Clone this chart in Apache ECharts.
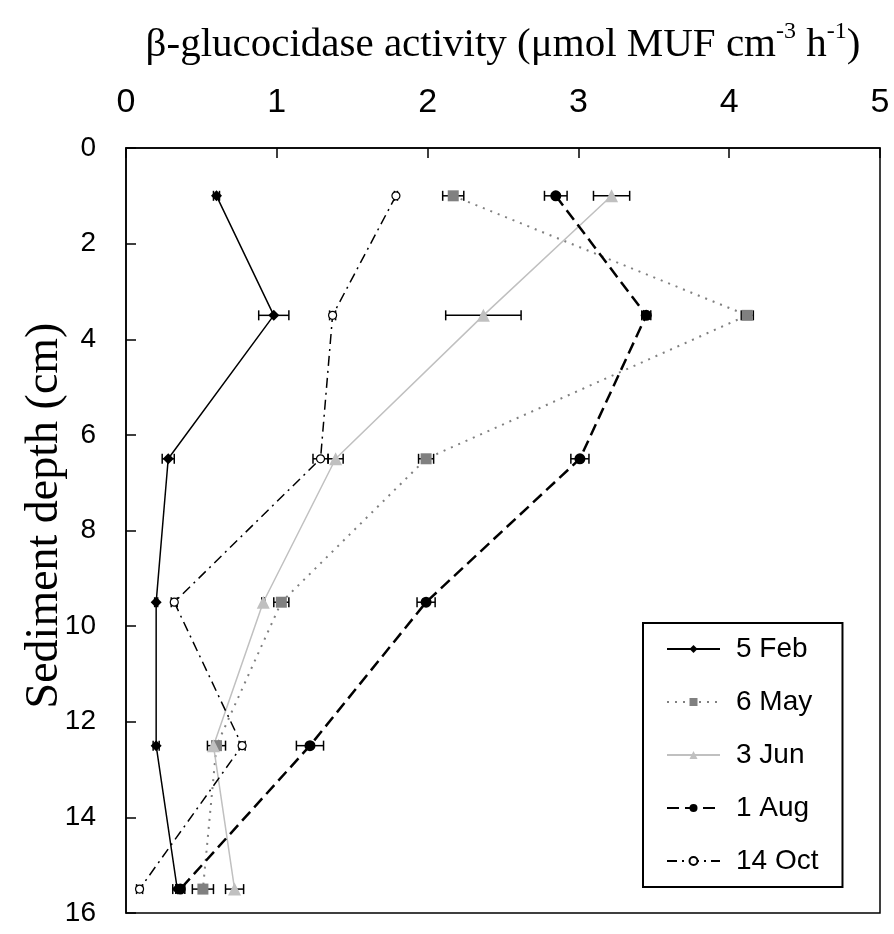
<!DOCTYPE html>
<html>
<head>
<meta charset="utf-8">
<script src="https://cdn.jsdelivr.net/npm/echarts@6.0.0/dist/echarts.min.js"></script>
<style>
  html, body { margin: 0; padding: 0; background: #fff; }
  #main { width: 894px; height: 934px; }
</style>
</head>
<body>
<div id="main"></div>
<script>
// depth of each sample layer (cm)
var depths = [1, 3.5, 6.5, 9.5, 12.5, 15.5];
var xTicks = [0, 1, 2, 3, 4, 5];
var yTicks = [0, 2, 4, 6, 8, 10, 12, 14, 16];

// activity values and half error bars
var feb5 = [0.60, 0.98, 0.28, 0.20, 0.20, 0.34];
var feb5Err = [0.02, 0.10, 0.04, 0.01, 0.02, 0.03];
var may6 = [2.17, 4.12, 1.99, 1.03, 0.60, 0.51];
var may6Err = [0.07, 0.04, 0.05, 0.05, 0.06, 0.07];
var jun3 = [3.22, 2.37, 1.39, 0.91, 0.58, 0.72];
var jun3Err = [0.12, 0.25, 0.05, 0.01, 0.01, 0.06];
var aug1 = [2.85, 3.45, 3.01, 1.99, 1.22, 0.36];
var aug1Err = [0.075, 0.03, 0.06, 0.06, 0.09, 0.03];
var oct14 = [1.79, 1.37, 1.29, 0.32, 0.77, 0.09];
var oct14Err = [0.01, 0.02, 0.05, 0.02, 0.02, 0.02];

var names = ['5 Feb', '6 May', '3 Jun', '1 Aug', '14 Oct'];

const pairs = (vals) => vals.map((v, i) => [v, depths[i]]);
const errPairs = (vals, errs) => vals.map((v, i) => [v, depths[i], errs[i]]);

function errorBars(vals, errs) {
  return {
    type: 'custom',
    z: 1,
    silent: true,
    data: errPairs(vals, errs),
    encode: { x: 0, y: 1 },
    renderItem: function (params, api) {
      var y = api.value(1);
      var lo = api.coord([api.value(0) - api.value(2), y]);
      var hi = api.coord([api.value(0) + api.value(2), y]);
      var h = 5;
      var st = { stroke: '#000', lineWidth: 1.5 };
      return {
        type: 'group',
        children: [
          { type: 'line', shape: { x1: lo[0], y1: lo[1], x2: hi[0], y2: hi[1] }, style: st },
          { type: 'line', shape: { x1: lo[0], y1: lo[1] - h, x2: lo[0], y2: lo[1] + h }, style: st },
          { type: 'line', shape: { x1: hi[0], y1: hi[1] - h, x2: hi[0], y2: hi[1] + h }, style: st }
        ]
      };
    }
  };
}

function lineSeries(name, vals, color, lineType, width, symbol, size, fill) {
  return {
    name: name,
    type: 'line',
    z: 3,
    data: pairs(vals),
    symbol: symbol,
    symbolSize: size,
    showAllSymbol: true,
    lineStyle: { color: color, type: lineType, width: width },
    itemStyle: { color: fill || color, borderColor: color, borderWidth: fill ? 1.2 : 0 },
    emphasis: { disabled: true }
  };
}

var chart = echarts.init(document.getElementById('main'));

var option = {
  animation: false,
  backgroundColor: '#fff',
  grid: {
    left: 126, right: 14, top: 148, bottom: 21,
    show: true, borderColor: '#000', borderWidth: 1.5
  },
  xAxis: {
    type: 'value',
    position: 'top',
    min: 0, max: 5, interval: 1,
    name: '{a|β-glucocidase activity (μmol MUF cm}{s|-3}{a| h}{s|-1}{a|)}',
    nameLocation: 'middle',
    nameGap: 82,
    nameTextStyle: {
      rich: {
        a: { fontFamily: 'Liberation Serif', fontSize: 41, color: '#000', lineHeight: 46, verticalAlign: 'bottom' },
        s: { fontFamily: 'Liberation Serif', fontSize: 24, color: '#000', lineHeight: 26, verticalAlign: 'top' }
      }
    },
    axisLine: { show: true, lineStyle: { color: '#000', width: 1.5 } },
    axisTick: { show: true, inside: true, length: 10, lineStyle: { color: '#000', width: 1.5 } },
    axisLabel: {
      margin: 28,
      fontFamily: 'Liberation Sans Narrow, Liberation Sans',
      fontSize: 34,
      color: '#000',
      formatter: (v) => xTicks.indexOf(v) >= 0 ? String(v) : ''
    },
    splitLine: { show: false }
  },
  yAxis: {
    type: 'value',
    inverse: true,
    min: 0, max: 16, interval: 2,
    name: 'Sediment depth (cm)',
    nameLocation: 'middle',
    nameRotate: 90,
    nameGap: 58,
    nameMoveOverlap: false,
    nameTextStyle: { fontFamily: 'Liberation Serif', fontSize: 46, color: '#000', padding: [0, 0, 0, 30] },
    axisLine: { show: true, lineStyle: { color: '#000', width: 1.5 } },
    axisTick: { show: true, inside: true, length: 10, lineStyle: { color: '#000', width: 1.5 } },
    axisLabel: {
      margin: 30,
      fontFamily: 'Liberation Sans',
      fontSize: 28,
      color: '#000',
      formatter: (v) => yTicks.indexOf(v) >= 0 ? String(v) : ''
    },
    splitLine: { show: false }
  },
  legend: {
    data: names,
    orient: 'vertical',
    left: 643,
    top: 623,
    padding: [12, 24, 12, 23],
    itemGap: 25,
    itemWidth: 53,
    itemHeight: 10,
    borderColor: '#000',
    borderWidth: 2,
    backgroundColor: '#fff',
    selectedMode: false,
    textStyle: { fontFamily: 'Liberation Sans', fontSize: 28, color: '#000', lineHeight: 28, padding: [0, 0, 0, 11] }
  },
  series: [
    errorBars(feb5, feb5Err),
    errorBars(may6, may6Err),
    errorBars(jun3, jun3Err),
    errorBars(aug1, aug1Err),
    errorBars(oct14, oct14Err),
    lineSeries('5 Feb', feb5, '#000', 'solid', 1.5, 'diamond', 11),
    lineSeries('6 May', may6, '#808080', [2, 6], 2, 'rect', 11),
    lineSeries('3 Jun', jun3, '#c0c0c0', 'solid', 1.5, 'triangle', 13),
    lineSeries('1 Aug', aug1, '#000', [12, 6], 2.5, 'circle', 11),
    lineSeries('14 Oct', oct14, '#000', [10, 5, 2, 5], 1.5, 'circle', 8, '#fff')
  ]
};

chart.setOption(option);
</script>
</body>
</html>
